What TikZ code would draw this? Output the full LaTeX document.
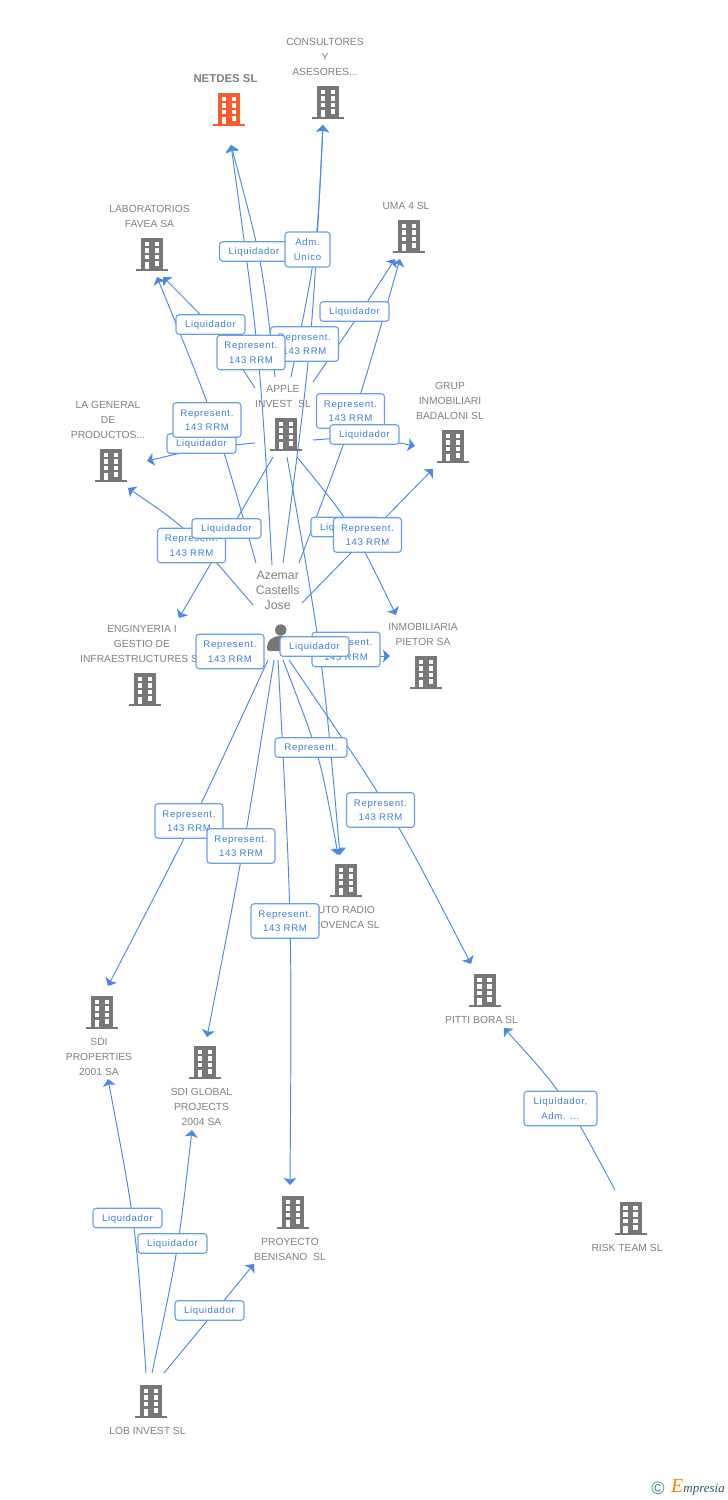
\documentclass[tikz,border=0pt]{standalone}
\usepackage{fontspec}
\usetikzlibrary{arrows.meta}
\newfontfamily\firmfont{Liberation Sans}
\newfontfamily\rolefont[LetterSpace=7]{Liberation Sans}
\newfontfamily\logofont{Liberation Serif}
\definecolor{edgeblue}{HTML}{4A8AE6}
\definecolor{boxblue}{HTML}{6A9FE8}
\definecolor{roleblue}{HTML}{3B7FDE}
\definecolor{firmgrey}{HTML}{777777}
\definecolor{firmtxt}{HTML}{808080}
\definecolor{firmred}{HTML}{FF5A2C}
\definecolor{logoteal}{HTML}{3F7F94}
\tikzset{
  link/.style={draw=edgeblue, line width=0.95pt},
  linkto/.style={link, -{Stealth[length=7pt,width=13pt,inset=1.5pt]}},
  firmname/.style={text=firmtxt, align=center, inner sep=0pt, yshift=-0.7pt, font=\firmfont\fontsize{10.3}{15}\selectfont},
  rolebox/.style={draw=boxblue, line width=1.1pt, rounded corners=3pt, fill=white, text=roleblue, align=center,
    inner sep=0pt, minimum width=68pt, minimum height=34.5pt, text depth=-2pt, font=\rolefont\fontsize{9.6}{14.5}\selectfont},
  liqbox/.style={rolebox, minimum width=69pt, minimum height=19.5pt, text depth=0pt},
  pics/building/.style={code={
    \fill[#1] (-11,-16.5) rectangle (11,15.5);
    \fill[#1] (-16,15) rectangle (16,17);
    \fill[white] (-7.5,-12.5) rectangle (-2.7,-8);
    \fill[white] (2.5,-12.5) rectangle (7.3,-8);
    \fill[white] (-7.5,-6) rectangle (-2.7,-1.5);
    \fill[white] (2.5,-6) rectangle (7.3,-1.5);
    \fill[white] (-7.5,0.5) rectangle (-2.7,5);
    \fill[white] (2.5,0.5) rectangle (7.3,5);
    \fill[white] (-7.2,7.5) rectangle (-3,15);
    \fill[white] (2.5,7) rectangle (7.3,11.5);
  }},
}
\begin{document}
\begin{tikzpicture}[x=1pt,y=-1pt]
  \useasboundingbox (0,0) rectangle (728,1500);

  % free ends of the connectors
  \coordinate (apple-n1) at (275,377); \coordinate (apple-n2) at (291,377);
  \coordinate (apple-n3) at (255,388); \coordinate (apple-n4) at (313,382);
  \coordinate (apple-w) at (255,443); \coordinate (apple-e) at (313,440);
  \coordinate (apple-s1) at (273,457); \coordinate (apple-s2) at (297,457);
  \coordinate (apple-s3) at (287,457);
  \coordinate (jose-n1) at (272,565); \coordinate (jose-n2) at (283,563);
  \coordinate (jose-n3) at (256,563); \coordinate (jose-n4) at (299,563);
  \coordinate (jose-w) at (253,605); \coordinate (jose-e) at (302,603);
  \coordinate (jose-e2) at (302,656);
  \coordinate (jose-s1) at (268,660); \coordinate (jose-s2) at (274,660);
  \coordinate (jose-s3) at (278,660); \coordinate (jose-s4) at (283,660);
  \coordinate (jose-s5) at (289,660);
  \coordinate (lob-n1) at (146,1373); \coordinate (lob-n2) at (152,1373);
  \coordinate (lob-n3) at (164,1373); \coordinate (risk-n) at (615,1190);

  \coordinate (netdes-in) at (231,145); \coordinate (cons-in) at (323,125);
  \coordinate (lab-in1) at (157,277); \coordinate (lab-in2) at (163,277);
  \coordinate (uma-in1) at (395,259); \coordinate (uma-in2) at (400,259);
  \coordinate (gen-in1) at (147,461); \coordinate (gen-in2) at (128,488);
  \coordinate (grup-in1) at (415,446); \coordinate (grup-in2) at (433,469);
  \coordinate (eng-in) at (179,618); \coordinate (inmo-in1) at (396,615);
  \coordinate (inmo-in2) at (390,656);
  \coordinate (auto-in1) at (340,855); \coordinate (auto-in2) at (338,855);
  \coordinate (prop-in1) at (108,986); \coordinate (prop-in2) at (108,1079);
  \coordinate (glob-in1) at (207,1037); \coordinate (glob-in2) at (192,1130);
  \coordinate (proy-in1) at (290,1185); \coordinate (proy-in2) at (254,1264);
  \coordinate (pitti-in1) at (471,964); \coordinate (pitti-in2) at (504,1028);

  % connectors
  \draw[linkto] (apple-n1) .. controls (262.5,262.5) .. (netdes-in);
  \draw[linkto] (jose-n1) .. controls (260,355) .. (netdes-in);
  \draw[linkto] (apple-n2) .. controls (317,251.5) .. (cons-in);
  \draw[linkto] (jose-n2) .. controls (312,344.5) .. (cons-in);
  \draw[linkto] (jose-n3) .. controls (215.5,420) .. (lab-in1);
  \draw[linkto] (apple-n3) .. controls (219,333) .. (lab-in2);
  \draw[linkto] (apple-n4) .. controls (355,321) .. (uma-in1);
  \draw[linkto] (jose-n4) .. controls (356.5,411.5) .. (uma-in2);
  \draw[linkto] (apple-w) .. controls (201.5,448) .. (gen-in1);
  \draw[linkto] (jose-w) .. controls (188,529) .. (gen-in2);
  \draw[linkto] (apple-e) .. controls (365,436) .. (grup-in1);
  \draw[linkto] (jose-e) -- (grup-in2);
  \draw[linkto] (apple-s1) -- (eng-in);
  \draw[linkto] (apple-s2) .. controls (352,524.5) .. (inmo-in1);
  \draw[linkto] (jose-e2) -- (inmo-in2);
  \draw[linkto] (apple-s3) .. controls (322.5,656) .. (auto-in1);
  \draw[linkto] (jose-s4) .. controls (320.5,757.5) .. (auto-in2);
  \draw[linkto] (jose-s1) .. controls (193,822.5) .. (prop-in1);
  \draw[linkto] (jose-s2) .. controls (244,848) .. (glob-in1);
  \draw[linkto] (jose-s3) .. controls (292,922) .. (proy-in1);
  \draw[linkto] (jose-s5) .. controls (392.5,811.5) .. (pitti-in1);
  \draw[linkto] (lob-n1) .. controls (136,1226.5) .. (prop-in2);
  \draw[linkto] (lob-n2) .. controls (178,1252) .. (glob-in2);
  \draw[linkto] (lob-n3) -- (proy-in2);
  \draw[linkto] (risk-n) .. controls (563,1093) .. (pitti-in2);

  % firms
  \pic at (229,109) {building=firmred};
  \pic at (328,102) {building=firmgrey};
  \pic at (409,236) {building=firmgrey};
  \pic at (152,254) {building=firmgrey};
  \pic at (286,434) {building=firmgrey};
  \pic at (111,465) {building=firmgrey};
  \pic at (453,446) {building=firmgrey};
  \pic at (145,689) {building=firmgrey};
  \pic at (426,672) {building=firmgrey};
  \pic at (346,880) {building=firmgrey};
  \pic at (102,1012) {building=firmgrey};
  \pic at (205,1062) {building=firmgrey};
  \pic at (293,1212) {building=firmgrey};
  \pic at (484.5,990) {building=firmgrey};
  \pic at (630.5,1218) {building=firmgrey};
  \pic at (151,1401) {building=firmgrey};

  \node[firmname, font=\firmfont\bfseries\fontsize{11.4}{15}\selectfont] (netdes) at (225.5,78) {NETDES SL};
  \node[firmname] (cons) at (325,56) {CONSULTORES\\Y\\ASESORES...};
  \node[firmname] (lab) at (149.5,215.5) {LABORATORIOS\\FAVEA SA};
  \node[firmname] (uma) at (406,205) {UMA 4 SL};
  \node[firmname] (apple) at (283,395.5) {APPLE\\INVEST\ \ SL};
  \node[firmname] (gen) at (108,419) {LA GENERAL\\DE\\PRODUCTOS...};
  \node[firmname] (grup) at (450,400) {GRUP\\INMOBILIARI\\BADALONI SL};
  \node[firmname] (eng) at (142,643) {ENGINYERIA I\\GESTIO DE\\INFRAESTRUCTURES SL};
  \node[firmname] (inmo) at (423,633.5) {INMOBILIARIA\\PIETOR SA};
  \node[firmname] (auto) at (343,916.5) {AUTO RADIO\\PROVENCA SL};
  \node[firmname] (prop) at (99,1056) {SDI\\PROPERTIES\\2001 SA};
  \node[firmname] (glob) at (201.5,1106) {SDI GLOBAL\\PROJECTS\\2004 SA};
  \node[firmname] (proy) at (290,1248.5) {PROYECTO\\BENISANO\ \ SL};
  \node[firmname] (pitti) at (481.5,1019) {PITTI BORA SL};
  \node[firmname] (risk) at (627,1247) {RISK TEAM SL};
  \node[firmname] (lob) at (147.5,1430) {LOB INVEST SL};

  % the person
  \node[firmname, font=\firmfont\fontsize{12.3}{15}\selectfont] (jose) at (277.7,589.5) {Azemar\\Castells\\Jose};
  \fill[firmgrey] (280.7,630) circle (5.7);
  \fill[firmgrey, rounded corners=3pt] (266.5,651) -- (268,641) -- (276,636) -- (286,636) -- (293,641) -- (295,651) -- cycle;

  % roles
  \node[liqbox] (liq-net) at (254,251.5) {Liquidador};
  \node[rolebox, minimum width=45pt, minimum height=35pt] (adm-cons) at (307.5,249.5) {Adm.\\Unico};
  \node[liqbox] (liq-lab) at (210.5,324.5) {Liquidador};
  \node[liqbox] (liq-uma) at (354.5,311.5) {Liquidador};
  \node[rolebox] (rep-cons) at (304.5,344) {Represent.\\143 RRM};
  \node[rolebox] (rep-net) at (251,352.5) {Represent.\\143 RRM};
  \node[liqbox] (liq-gen) at (201.5,443.5) {Liquidador};
  \node[rolebox] (rep-lab) at (207,420) {Represent.\\143 RRM};
  \node[rolebox] (rep-uma) at (350.5,411) {Represent.\\143 RRM};
  \node[liqbox] (liq-grup) at (364.5,434.5) {Liquidador};
  \node[rolebox] (rep-gen) at (191.5,545.5) {Represent.\\143 RRM};
  \node[liqbox] (liq-eng) at (226.5,528.5) {Liquidador};
  \node[liqbox] (liq-inmo) at (345.5,527) {Liquidador};
  \node[rolebox] (rep-grup) at (367.5,535) {Represent.\\143 RRM};
  \node[rolebox] (rep-eng) at (230,651.5) {Represent.\\143 RRM};
  \node[rolebox] (rep-inmo) at (346,649.5) {Represent.\\143 RRM};
  \node[liqbox] (liq-auto) at (314.5,646.5) {Liquidador};
  \node[liqbox, minimum width=72pt] (rep-auto) at (311,747.5) {Represent.};
  \node[rolebox] (rep-prop) at (189,821) {Represent.\\143 RRM};
  \node[rolebox] (rep-glob) at (241,846) {Represent.\\143 RRM};
  \node[rolebox] (rep-pitti) at (380.5,810) {Represent.\\143 RRM};
  \node[rolebox] (rep-proy) at (285,921) {Represent.\\143 RRM};
  \node[liqbox] (liq-prop) at (127.5,1218) {Liquidador};
  \node[liqbox] (liq-glob) at (172.5,1243.5) {Liquidador};
  \node[liqbox] (liq-proy) at (209.5,1310.5) {Liquidador};
  \node[rolebox, minimum width=73pt] (liq-pitti) at (560.5,1108.5) {Liquidador,\\Adm. ...};

  % logo
  \node[inner sep=0pt, text=logoteal, font=\firmfont\fontsize{18}{18}\selectfont] (copy) at (658,1488) {©};
  \node[inner sep=0pt, anchor=base west, text=logoteal!70!black, font=\logofont\itshape\fontsize{13}{15}\selectfont] (brand) at (671,1492.5)
    {\textcolor{orange}{\fontsize{20}{15}\selectfont E}mpresia};
\end{tikzpicture}
\end{document}
